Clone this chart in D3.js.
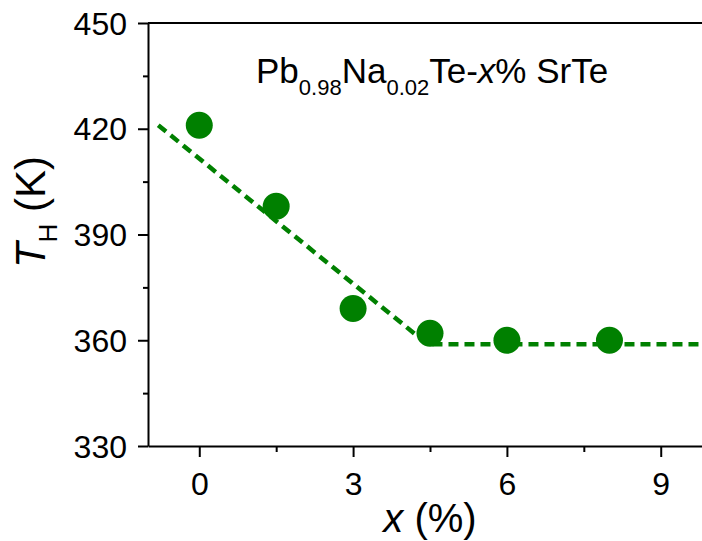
<!DOCTYPE html>
<html>
<head>
<meta charset="utf-8">
<script src="https://cdn.jsdelivr.net/npm/d3@7"></script>
<style>
  html, body { margin: 0; padding: 0; background: #fff; }
  svg { display: block; font-family: "Liberation Sans", Arial, sans-serif; }
</style>
</head>
<body>
<svg id="chart" width="702" height="541"></svg>
<script>
// SrTe content (x, %) and the measured T_H (K)
const srTeContent = [0, 1.5, 3, 4.5, 6, 8];
const tempH = [421, 398, 369, 362, 360, 360];

// Guide line: linear drop, then a plateau
const guideX = [-0.8, 4.45, 10];
const guideY = [421, 358.9, 358.9];

const xTicks = [0, 3, 6, 9];
const xMinorTicks = [1.5, 4.5, 7.5];
const yTicks = [330, 360, 390, 420, 450];
const yMinorTicks = [345, 375, 405, 435];

const green = "#008000";

const svg = d3.select("#chart");
const x = d3.scaleLinear().domain([-1, 10]).range([148, 712]);
const y = d3.scaleLinear().domain([330, 450]).range([446, 23]);

function styleAxis(g) {
  g.select(".domain").attr("stroke", "#000").attr("stroke-width", 2);
  g.selectAll(".tick line").attr("stroke", "#000").attr("stroke-width", 2);
  g.selectAll("text").attr("fill", "#000").attr("font-size", 32)
    .attr("font-family", "'Liberation Sans', Arial, sans-serif");
}

// bottom axis
const xAxisG = svg.append("g").attr("transform", `translate(0,${y(330)})`)
  .call(d3.axisBottom(x).tickValues(xTicks).tickSize(11).tickSizeOuter(0).tickFormat(d3.format("d")))
  .call(styleAxis);
xAxisG.selectAll("text").attr("y", 49).attr("dy", null);
svg.append("g").attr("transform", `translate(0,${y(330)})`)
  .call(d3.axisBottom(x).tickValues(xMinorTicks).tickSize(6).tickFormat(""))
  .call(styleAxis).select(".domain").remove();

// left axis
const yAxisG = svg.append("g").attr("transform", `translate(${x(-1)},0)`)
  .call(d3.axisLeft(y).tickValues(yTicks).tickSize(10).tickPadding(11).tickSizeOuter(0))
  .call(styleAxis);
yAxisG.selectAll("text").attr("dy", "0.35em");
svg.append("g").attr("transform", `translate(${x(-1)},0)`)
  .call(d3.axisLeft(y).tickValues(yMinorTicks).tickSize(5).tickFormat(""))
  .call(styleAxis).select(".domain").remove();

// top frame line
svg.append("line")
  .attr("x1", x(-1)).attr("x2", x(10)).attr("y1", y(450)).attr("y2", y(450))
  .attr("stroke", "#000").attr("stroke-width", 2);

// right frame line with inward ticks
svg.append("line")
  .attr("x1", x(10)).attr("x2", x(10)).attr("y1", y(330)).attr("y2", y(450))
  .attr("stroke", "#000").attr("stroke-width", 2);
svg.append("g").attr("transform", `translate(${x(10)},0)`)
  .call(d3.axisRight(y).tickValues(yTicks).tickSize(-10).tickFormat(""))
  .call(styleAxis).select(".domain").remove();

// guide line
const guide = guideX.map((d, i) => [d, guideY[i]]);
svg.append("path")
  .datum(guide)
  .attr("d", d3.line().x(d => x(d[0])).y(d => y(d[1])))
  .attr("fill", "none")
  .attr("stroke", green)
  .attr("stroke-width", 4.5)
  .attr("stroke-dasharray", "10,6");

// data points
svg.append("g").selectAll("circle")
  .data(srTeContent.map((d, i) => [d, tempH[i]]))
  .join("circle")
  .attr("cx", d => x(d[0]))
  .attr("cy", d => y(d[1]))
  .attr("r", 13.5)
  .attr("fill", green);

// composition label
const title = svg.append("text")
  .attr("x", 256).attr("y", 83)
  .attr("font-size", 35).attr("fill", "#000");
title.append("tspan").text("Pb");
title.append("tspan").attr("font-size", 22).attr("dy", 12).text("0.98");
title.append("tspan").attr("dy", -12).text("Na");
title.append("tspan").attr("font-size", 22).attr("dy", 12).text("0.02");
title.append("tspan").attr("dy", -12).text("Te-");
title.append("tspan").attr("font-style", "italic").text("x");
title.append("tspan").text("% SrTe");

// y-axis title
const yTitle = svg.append("text")
  .attr("transform", "translate(45,212) rotate(-90)")
  .attr("text-anchor", "middle")
  .attr("font-size", 42).attr("fill", "#000");
yTitle.append("tspan").attr("font-style", "italic").text("T");
yTitle.append("tspan").attr("font-size", 26).attr("dy", 12).text("H");
yTitle.append("tspan").attr("dy", -12).text(" (K)");

// x-axis title
const xTitle = svg.append("text")
  .attr("x", 430).attr("y", 532)
  .attr("text-anchor", "middle")
  .attr("font-size", 40).attr("fill", "#000");
xTitle.append("tspan").attr("font-style", "italic").text("x");
xTitle.append("tspan").text(" (%)");
</script>
</body>
</html>
